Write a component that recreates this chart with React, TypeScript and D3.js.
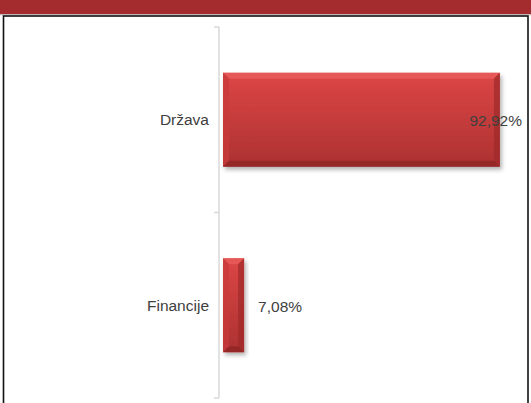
import React from "react";
import * as d3 from "d3";

const categories = ["Država", "Financije"];
const values = [92.92, 7.08];
const valueLabels = ["92,92%", "7,08%"];

const W = 531;
const H = 403;

export default function App() {
  const axisX = 219;
  const x = d3.scaleLinear().domain([0, 100]).range([223, 521]);
  const y = d3
    .scaleBand<string>()
    .domain(categories)
    .range([27, 398])
    .paddingInner(0.494)
    .paddingOuter(0.247);
  const step = y.step();
  const tickYs = [27, ...categories.map((c) => (y(c) as number) - y.paddingOuter() * step + step)];
  const font = "'Liberation Sans', Arial, sans-serif";
  const bev = 6;

  return (
    <svg
      width={W}
      height={H}
      style={{ position: "absolute", left: 0, top: 0, background: "#fff" }}
    >
      <defs>
        <linearGradient id="barGrad" x1="0" y1="0" x2="0" y2="1">
          <stop offset="0" stopColor="#dc4646" />
          <stop offset="1" stopColor="#ad3131" />
        </linearGradient>
        <linearGradient id="bandShadow" x1="0" y1="0" x2="0" y2="1">
          <stop offset="0" stopColor="#b0a0a0" />
          <stop offset="1" stopColor="#ffffff" />
        </linearGradient>
        <filter id="shadow" x="-10%" y="-10%" width="130%" height="130%">
          <feDropShadow dx="2" dy="3" stdDeviation="2" floodColor="#000" floodOpacity="0.3" />
        </filter>
      </defs>

      {/* top band */}
      <rect x={0} y={0} width={W} height={14} fill="#a52c2e" />
      <rect x={0} y={14} width={W} height={2} fill="url(#bandShadow)" />
      {/* frame */}
      <rect x={3.5} y={16} width={524.5} height={H} fill="#fff" stroke="#111" strokeWidth={1.6} />

      {/* axis */}
      <line x1={axisX} x2={axisX} y1={27} y2={398} stroke="#d9d9d9" strokeWidth={1.5} />
      {tickYs.map((t, i) => (
        <line key={i} x1={axisX - 5} x2={axisX} y1={t} y2={t} stroke="#d9d9d9" strokeWidth={1.5} />
      ))}

      {categories.map((c, i) => {
        const x0 = x(0);
        const x1 = x(values[i]);
        const y0 = y(c) as number;
        const h = y.bandwidth();
        const y1 = y0 + h;
        const w = x1 - x0;
        const b = Math.min(bev, w / 2);
        const cy = y0 + h / 2;
        const lbl = valueLabels[i];
        const estW = lbl.length * 9;
        let lx = x1 + 14;
        let anchor: "start" | "end" = "start";
        if (lx + estW > 524) {
          lx = 522;
          anchor = "end";
        }
        return (
          <g key={c}>
            <g filter="url(#shadow)">
              <rect x={x0} y={y0} width={w} height={h} fill="url(#barGrad)" />
            </g>
            {/* bevel: top */}
            <polygon
              points={`${x0},${y0} ${x1},${y0} ${x1 - b},${y0 + b} ${x0 + b},${y0 + b}`}
              fill="#e85a5a"
              opacity={0.85}
            />
            {/* left */}
            <polygon
              points={`${x0},${y0} ${x0 + b},${y0 + b} ${x0 + b},${y1 - b} ${x0},${y1}`}
              fill="#c93a3a"
              opacity={0.7}
            />
            {/* right */}
            <polygon
              points={`${x1},${y0} ${x1},${y1} ${x1 - b},${y1 - b} ${x1 - b},${y0 + b}`}
              fill="#9e2a2a"
              opacity={0.7}
            />
            {/* bottom */}
            <polygon
              points={`${x0},${y1} ${x1},${y1} ${x1 - b},${y1 - b} ${x0 + b},${y1 - b}`}
              fill="#8c2424"
              opacity={0.75}
            />
            <text
              x={209}
              y={cy}
              textAnchor="end"
              dominantBaseline="central"
              fontFamily={font}
              fontSize={15.5}
              fill="#404040"
            >
              {c}
            </text>
            <text
              x={lx}
              y={cy + 1}
              textAnchor={anchor}
              dominantBaseline="central"
              fontFamily={font}
              fontSize={15.5}
              fill="#404040"
            >
              {lbl}
            </text>
          </g>
        );
      })}
    </svg>
  );
}
